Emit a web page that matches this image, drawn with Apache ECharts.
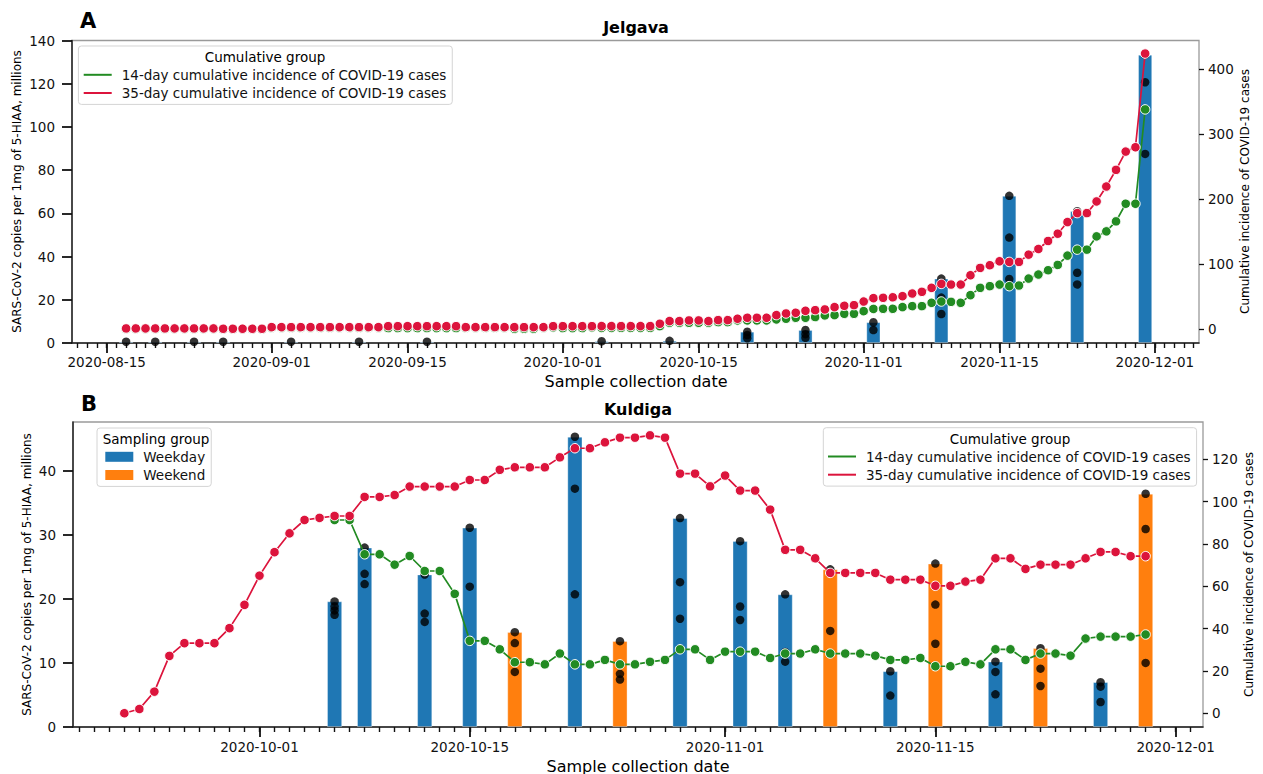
<!DOCTYPE html>
<html>
<head>
<meta charset="utf-8">
<title>SARS-CoV-2 in wastewater: Jelgava and Kuldiga</title>
<script src="https://cdn.jsdelivr.net/npm/echarts@6.0.0/dist/echarts.min.js"></script>
<style>
  html, body { margin: 0; padding: 0; background: #fff; }
  #chart { width: 1263px; height: 774px; }
</style>
</head>
<body>
<div id="chart"></div>
<script>
// ---------------- Jelgava ----------------
// daily cumulative incidence, one value per day starting at jelgavaLineStart
const jelgavaLineStart = '2020-08-17';
const jelgava35day = [
  1.5, 1.5, 1.5, 1.5, 1.5, 1.5, 1.5, 1.5, 1.5, 1.5,
  1.0, 1.0, 1.0, 1.0, 1.0,
  3.5, 3.5, 3.5, 3.5, 3.5, 3.5, 3.5, 3.5, 3.5, 3.5, 3.5, 3.5,
  5.0, 5.0, 5.0, 5.0, 5.0, 5.0, 5.0, 5.0,
  3.5, 3.5, 3.5, 3.5, 3.5, 3.5, 3.5, 3.5, 3.5,
  5.0, 5.0, 5.0, 5.0, 5.0,
  5.1, 5.1, 5.1, 5.1, 5.1, 5.1, 8.7, 12.8, 12.8, 13.8, 13.8, 12.8, 14.3, 14.3, 16.4,
  17.9, 17.9, 17.9, 22.0, 24.5, 25.6, 28.6, 29.6, 30.7, 34.3, 36.3, 37.3, 42.9, 48.1,
  48.6, 49.4, 51.1, 55.2, 57.8, 63.9, 70.0, 69.0, 69.0, 83.3, 94.6, 98.7, 104.8, 103.8,
  103.8, 115.0, 123.7, 136.0, 147.2, 165.1, 178.9, 178.9, 196.8, 219.8, 245.4, 273.5, 280.2, 424.3
];
const jelgava14day = [
  1.0, 1.0, 1.0, 1.0, 1.0, 1.0, 1.0, 1.0, 1.0, 1.0,
  0.5, 0.5, 0.5, 0.5, 0.5,
  2.5, 2.5, 2.5, 2.5, 2.5, 2.5, 2.5, 2.5, 2.5, 2.5, 2.5, 2.5,
  2.0, 2.0, 2.0, 2.0, 2.0, 2.0, 2.0, 2.0,
  2.5, 2.5, 2.5, 2.5, 2.5, 1.0, 1.0, 1.0, 2.5,
  3.0, 2.0, 2.0, 2.0, 3.0,
  2.3, 2.3, 2.3, 2.3, 2.3, 2.3, 5.0, 10.2, 10.2, 10.2, 10.2, 10.2, 11.2, 11.2, 13.8,
  13.8, 13.8, 13.8, 15.3, 16.4, 17.9, 17.9, 19.0, 21.5, 22.0, 24.0, 24.0, 28.1, 31.5,
  31.7, 31.7, 34.3, 35.8, 35.8, 40.9, 42.9, 42.4, 40.9, 52.7, 63.9, 66.5, 69.0, 66.5,
  67.5, 78.2, 84.4, 91.0, 99.2, 113.5, 122.7, 122.7, 143.1, 150.8, 166.2, 193.3, 193.3, 338.4
];
// sampling days, bar height and individual measurements (millions of copies)
const jelgavaSampleDates = [
  '2020-08-17', '2020-08-20', '2020-08-24', '2020-08-27', '2020-09-03', '2020-09-10',
  '2020-09-17', '2020-10-05', '2020-10-12', '2020-10-20', '2020-10-26', '2020-11-02',
  '2020-11-09', '2020-11-16', '2020-11-23', '2020-11-30'
];
const jelgavaBarHeights = [0.6, 0.6, 0.6, 0.6, 0.6, 0.6, 0.6, 0.8, 1.0, 5.2, 6.0, 9.6, 29.8, 68.1, 61.0, 133.4];
const jelgavaReplicates = [
  [0.6], [0.6], [0.6], [0.6], [0.6], [0.6], [0.6], [0.8], [1.0],
  [5.2, 3.7, 2.2], [6.0, 4.1, 2.4], [9.6, 6.0], [29.8, 21.0, 13.4],
  [68.1, 48.8, 29.6], [61.0, 32.5, 27.1], [133.4, 120.7, 87.5]
];

// ---------------- Kuldiga ----------------
const kuldiga35Start = '2020-09-22';
const kuldiga35day = [
  0.0, 2.0, 10.2, 27.1, 33.1, 33.1, 33.1, 40.2, 51.2,
  65.0, 76.1, 85.0, 91.3, 92.3, 93.2, 93.2, 102.2, 102.2, 103.1, 107.1, 107.1, 107.1, 107.1,
  110.2, 110.2, 115.0, 116.2, 116.2, 116.2, 120.9, 125.2, 125.2, 128.0, 130.2, 130.2, 131.3,
  130.2, 113.2, 113.2, 107.2,
  112.3, 105.2, 105.2, 96.2, 77.2, 77.2, 73.2, 66.3, 66.3, 66.3, 66.3, 63.1, 63.1, 63.1,
  60.2, 60.2, 62.2, 63.1, 73.2, 73.2, 68.2, 70.2, 70.2, 70.2, 73.2, 76.2, 76.2, 74.2, 74.2
];
const kuldiga14Start = '2020-10-06';
const kuldiga14day = [
  91.3, 91.3, 75.1, 75.1, 70.2, 74.3, 67.2, 67.2, 56.4, 34.2, 34.2, 30.2, 24.1, 24.1,
  23.1, 28.2, 23.1, 23.1, 25.2, 23.1, 23.1, 24.3, 25.2, 30.2, 30.2, 25.2,
  29.1, 29.1, 29.1, 26.1, 28.2, 28.2, 30.2, 28.2, 28.2, 28.2, 27.2, 25.2, 25.2, 26.1,
  22.2, 22.2, 24.3, 23.1, 30.2, 30.2, 25.2, 28.2, 28.2, 27.2, 35.3, 36.2, 36.2, 36.2, 37.2
];
const kuldigaSampleDates = [
  '2020-10-06', '2020-10-08', '2020-10-12', '2020-10-15', '2020-10-18', '2020-10-22',
  '2020-10-25', '2020-10-29', '2020-11-02', '2020-11-05', '2020-11-08', '2020-11-12',
  '2020-11-15', '2020-11-19', '2020-11-22', '2020-11-26', '2020-11-29'
];
const kuldigaSampleGroup = [
  'Weekday', 'Weekday', 'Weekday', 'Weekday', 'Weekend', 'Weekday',
  'Weekend', 'Weekday', 'Weekday', 'Weekday', 'Weekend', 'Weekday',
  'Weekend', 'Weekday', 'Weekend', 'Weekday', 'Weekend'
];
const kuldigaBarHeights = [19.6, 28.0, 23.8, 31.1, 14.8, 45.3, 13.4, 32.6, 29.0, 20.7, 24.6, 8.7, 25.5, 10.2, 12.3, 7.0, 36.4];
const kuldigaReplicates = [
  [19.6, 18.8, 18.2, 17.5], [28.0, 23.9, 22.3], [23.8, 17.7, 16.4], [31.1, 21.9],
  [14.8, 13.1, 8.6], [45.3, 37.2, 20.7], [13.4, 8.3, 7.4], [32.6, 22.6, 16.9],
  [29.0, 18.8, 16.7], [20.7, 11.7, 10.2], [24.6, 15.0], [8.7, 4.9],
  [25.5, 19.1, 13.0], [10.2, 8.6, 5.1], [12.3, 9.1, 6.4], [7.0, 6.3, 3.9], [36.4, 30.9, 10.0]
];

// ---------------- axis ticks ----------------
const jelgavaDateTicks = ['2020-08-15', '2020-09-01', '2020-09-15', '2020-10-01', '2020-10-15', '2020-11-01', '2020-11-15', '2020-12-01'];
const kuldigaDateTicks = ['2020-10-01', '2020-10-15', '2020-11-01', '2020-11-15', '2020-12-01'];
const jelgavaLeftTicks = [0, 20, 40, 60, 80, 100, 120, 140];
const jelgavaRightTicks = [0, 100, 200, 300, 400];
const kuldigaLeftTicks = [0, 10, 20, 30, 40];
const kuldigaRightTicks = [0, 20, 40, 60, 80, 100, 120];

const NAME_14 = '14-day cumulative incidence of COVID-19 cases';
const NAME_35 = '35-day cumulative incidence of COVID-19 cases';

// ---------------- helpers ----------------
const DAY = 86400000;
function utc(s) { const p = s.split('-').map(Number); return Date.UTC(p[0], p[1] - 1, p[2]); }
function fmtDate(t) {
  const d = new Date(t);
  return d.getUTCFullYear() + '-' + String(d.getUTCMonth() + 1).padStart(2, '0') + '-' + String(d.getUTCDate()).padStart(2, '0');
}
function dailySeries(start, values) { const t0 = utc(start); return values.map((v, i) => [t0 + i * DAY, v]); }
function everyDay(from, to) { const out = []; for (let t = Math.ceil(from / DAY) * DAY; t <= to; t += DAY) out.push(t); return out; }
function pointsOf(dates, reps) { const out = []; dates.forEach((d, i) => reps[i].forEach(v => out.push([utc(d), v]))); return out; }
function barsOf(dates, heights, groups, want) {
  const out = [];
  dates.forEach((d, i) => { if (!groups || groups[i] === want) out.push([utc(d), heights[i]]); });
  return out;
}

const FONT = 'DejaVu Sans';
const BLUE = '#1f77b4', ORANGE = '#ff7f0e', GREEN = '#228b22', RED = '#dc143c';
const tickText = { fontFamily: FONT, fontSize: 13.5, color: '#111' };

// date ranges of the two panels
const aMin = utc('2020-08-15') - 3.575 * DAY, aMax = utc('2020-08-15') + 112.55 * DAY;
const bMin = utc('2020-10-01') - 12.417 * DAY, bMax = utc('2020-10-01') + 62.82 * DAY;

function dateAxes(gridIndex, min, max, labels, margin) {
  const major = labels.map(utc);
  return [
    {
      type: 'value', gridIndex, min, max, position: 'bottom',
      axisLine: { show: true, onZero: false, lineStyle: { color: '#222', width: 1.5 } },
      axisTick: { show: true, customValues: major, length: 10, lineStyle: { color: '#111', width: 1.8 } },
      axisLabel: Object.assign({ customValues: major, formatter: fmtDate, margin }, tickText),
      splitLine: { show: false }
    },
    {
      type: 'value', gridIndex, min, max, position: 'bottom',
      axisLine: { show: false, onZero: false },
      axisTick: { show: true, customValues: everyDay(min, max), length: 5, lineStyle: { color: '#111', width: 1.4 } },
      axisLabel: { show: false },
      splitLine: { show: false }
    }
  ];
}
function leftAxis(gridIndex, min, max, ticks) {
  return {
    type: 'value', gridIndex, position: 'left', min, max,
    axisLine: { show: true, onZero: false, lineStyle: { color: '#222', width: 1.5 } },
    axisTick: { show: true, customValues: ticks, length: 10, lineStyle: { color: '#111', width: 1.8 } },
    axisLabel: Object.assign({ customValues: ticks, margin: 17 }, tickText),
    splitLine: { show: false }
  };
}
function rightAxis(gridIndex, min, max, ticks, margin) {
  return {
    type: 'value', gridIndex, position: 'right', min, max,
    axisLine: { show: false },
    axisTick: { show: true, customValues: ticks, length: 5, lineStyle: { color: '#111', width: 1.3 } },
    axisLabel: Object.assign({ customValues: ticks, margin }, tickText),
    splitLine: { show: false }
  };
}
function lineSeries(name, color, data, xAxisIndex, yAxisIndex, z) {
  return {
    type: 'line', name, data, xAxisIndex, yAxisIndex, z,
    symbol: 'circle', symbolSize: 9.5, showSymbol: true,
    lineStyle: { color, width: 1.7 },
    itemStyle: { color, borderColor: '#fff', borderWidth: 1 },
    emphasis: { disabled: true }
  };
}
function dotSeries(data, xAxisIndex, yAxisIndex) {
  return {
    type: 'scatter', name: 'Replicate', data, xAxisIndex, yAxisIndex, z: 3,
    symbol: 'circle', symbolSize: 8.5, itemStyle: { color: '#000' }, emphasis: { disabled: true }
  };
}
function barSeries(name, color, data, xAxisIndex, yAxisIndex, width) {
  return {
    type: 'bar', name, data, xAxisIndex, yAxisIndex, z: 2, barWidth: width, barGap: '-100%',
    itemStyle: { color, borderColor: 'rgba(255,255,255,0.45)', borderWidth: 0.8 },
    emphasis: { disabled: true }
  };
}
function legendBox(left, top, names, iconH, padLeft, titleSpace) {
  return {
    orient: 'vertical', left, top, selectedMode: false,
    data: names.map(n => ({ name: n, icon: 'rect' })),
    itemWidth: 28, itemHeight: iconH, itemGap: 0,
    itemStyle: { borderWidth: 0 },
    textStyle: { fontFamily: FONT, fontSize: 13.5, color: '#111', lineHeight: 18.2, padding: [0, 0, 0, 5] },
    padding: [titleSpace, 6, 2.3, padLeft],
    backgroundColor: 'rgba(255,255,255,0.85)', borderColor: '#d4d4d4', borderWidth: 1, borderRadius: 3
  };
}
function text(str, x, y, size, extra) {
  return Object.assign({
    type: 'text', x, y, z: 100, silent: true,
    style: { text: str, fontFamily: FONT, fontSize: size, fill: '#000', align: 'center', verticalAlign: 'middle' }
  }, extra || {});
}
function boldText(str, x, y, size) {
  const t = text(str, x, y, size); t.style.fontWeight = 'bold'; return t;
}

const option = {
  animation: false,
  backgroundColor: '#fff',
  grid: [
    { left: 72, top: 40.5, width: 1127, height: 302.5, show: true, borderColor: '#9a9a9a', borderWidth: 1.3, containLabel: false },
    { left: 73, top: 422, width: 1130, height: 305, show: true, borderColor: '#9a9a9a', borderWidth: 1.3, containLabel: false }
  ],
  xAxis: [].concat(
    dateAxes(0, aMin, aMax, jelgavaDateTicks, 12),
    dateAxes(1, bMin, bMax, kuldigaDateTicks, 12.5)
  ),
  yAxis: [
    leftAxis(0, 0, 140, jelgavaLeftTicks),
    rightAxis(0, -20.9, 444.4, jelgavaRightTicks, 9),
    leftAxis(1, 0, 47.6, kuldigaLeftTicks),
    rightAxis(1, -6.5, 137.6, kuldigaRightTicks, 9)
  ],
  legend: [
    legendBox(78.4, 46, [NAME_14, NAME_35], 2, 5.3, 19.7),
    legendBox(97, 428, ['Weekday', 'Weekend'], 10, 8.3, 19.7),
    legendBox(823.3, 427.7, [NAME_14, NAME_35], 2, 4.7, 19.7)
  ],
  series: [
    // Jelgava
    barSeries('Weekday', BLUE, barsOf(jelgavaSampleDates, jelgavaBarHeights), 0, 0, 14),
    dotSeries(pointsOf(jelgavaSampleDates, jelgavaReplicates), 0, 0),
    lineSeries(NAME_14, GREEN, dailySeries(jelgavaLineStart, jelgava14day), 0, 1, 4),
    lineSeries(NAME_35, RED, dailySeries(jelgavaLineStart, jelgava35day), 0, 1, 5),
    // Kuldiga
    barSeries('Weekday', BLUE, barsOf(kuldigaSampleDates, kuldigaBarHeights, kuldigaSampleGroup, 'Weekday'), 2, 2, 15),
    barSeries('Weekend', ORANGE, barsOf(kuldigaSampleDates, kuldigaBarHeights, kuldigaSampleGroup, 'Weekend'), 2, 2, 15),
    dotSeries(pointsOf(kuldigaSampleDates, kuldigaReplicates), 2, 2),
    lineSeries(NAME_14, GREEN, dailySeries(kuldiga14Start, kuldiga14day), 2, 3, 4),
    lineSeries(NAME_35, RED, dailySeries(kuldiga35Start, kuldiga35day), 2, 3, 5)
  ],
  graphic: [
    boldText('A', 88, 20.5, 21),
    boldText('Jelgava', 636, 27, 16),
    boldText('B', 89, 404, 21),
    boldText('Kuldiga', 638, 409, 16),
    text('Sample collection date', 636, 381.5, 16),
    text('Sample collection date', 638, 766, 16),
    text('SARS-CoV-2 copies per 1mg of 5-HIAA, millions', 16.5, 191.5, 12, { rotation: Math.PI / 2 }),
    text('SARS-CoV-2 copies per 1mg of 5-HIAA, millions', 26.5, 574.5, 12, { rotation: Math.PI / 2 }),
    text('Cumulative incidence of COVID-19 cases', 1245, 191.5, 12, { rotation: Math.PI / 2 }),
    text('Cumulative incidence of COVID-19 cases', 1249, 574.5, 12, { rotation: Math.PI / 2 }),
    text('Cumulative group', 265, 56.5, 13.5),
    text('Sampling group', 156, 438.5, 13.5),
    text('Cumulative group', 1010, 438.5, 13.5)
  ]
};

const chart = echarts.init(document.getElementById('chart'), null, { renderer: 'svg' });
chart.setOption(option);
</script>
</body>
</html>
